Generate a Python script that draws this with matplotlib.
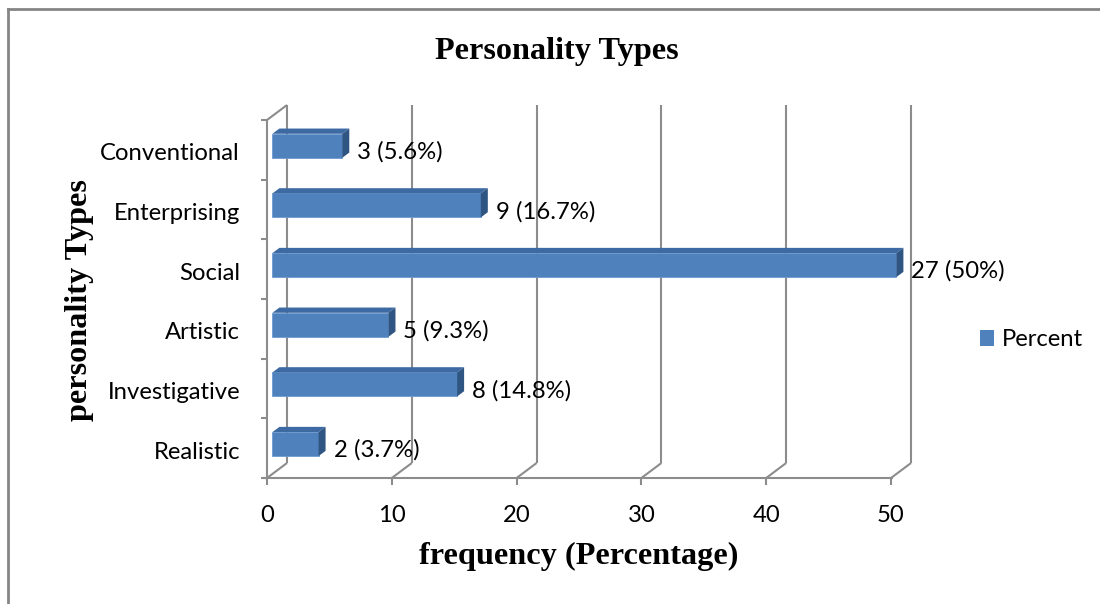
import matplotlib
matplotlib.use("Agg")
import matplotlib.pyplot as plt
from matplotlib.patches import Polygon, Patch
from matplotlib.lines import Line2D

# ---- data ----
categories = ["Realistic", "Investigative", "Artistic", "Social", "Enterprising", "Conventional"]
counts = [2, 8, 5, 27, 9, 3]
percents = [3.7, 14.8, 9.3, 50, 16.7, 5.6]
xticks = [0, 10, 20, 30, 40, 50]
series_name = "Percent"

# ---- style ----
W, H = 1100, 604
fig = plt.figure(figsize=(W / 100, H / 100), dpi=100)
fig.patch.set_facecolor("white")

SANS = ["Lato", "DejaVu Sans"]
SERIF = ["Liberation Serif", "DejaVu Serif"]
FS = 17.2
TFS = 23.2
GRID = "#8c8c8c"
FRONT = "#4f81bd"
TOP = "#3d6aa2"
SIDE = "#2f5582"

# front plane of the 3D box in pixels
L, R, B, T = 267, 891, 478, 120
ax = fig.add_axes([L / W, 1 - B / H, (R - L) / W, (B - T) / H])
ax.set_xlim(0, 50)
ax.set_ylim(0, len(categories))
ax.axis("off")

ppx = (R - L) / 50.0            # pixels per x unit
ppy = (B - T) / len(categories) # pixels per y unit
DX, DY = 20 / ppx, 15 / ppy     # full depth of the box (data units)
f0, f1 = 0.27, 0.62             # bar depth fractions
bh = 24 / ppy                   # bar front-face height

lw = 1.5
kw = dict(color=GRID, lw=lw, clip_on=False, solid_capstyle="butt", zorder=1)
ny = len(categories)
# back wall gridlines + floor diagonals
for v in xticks:
    ax.plot([v + DX, v + DX], [DY, ny + DY], **kw)
    ax.plot([v, v + DX], [0, DY], **kw)
# left wall front edge and top diagonal
ax.plot([0, 0], [0, ny], **kw)
ax.plot([0, DX], [ny, ny + DY], **kw)
# front floor line
ax.plot([-5 / ppx, 50 + 2 / ppx], [0, 0], **kw)
# ticks
for i in range(ny + 1):
    ax.plot([-6 / ppx, 0], [i, i], **kw)
for v in xticks:
    ax.plot([v, v], [0, -7 / ppy], **kw)
    ax.text(v, -38 / ppy, str(v), ha="center", va="center", fontsize=FS, family=SANS)

# bars
for i, (c, n, p) in enumerate(zip(categories, counts, percents)):
    x0 = f0 * DX
    yc = i + 0.5 + f0 * DY
    ybot, ytop = yc - bh / 2, yc + bh / 2
    ddx, ddy = (f1 - f0) * DX, (f1 - f0) * DY
    ax.barh(yc, p, height=bh, left=x0, color=FRONT, edgecolor="#6f9bd0", lw=0.6, zorder=3, clip_on=False)
    ax.add_patch(Polygon([(x0, ytop), (x0 + p, ytop), (x0 + p + ddx, ytop + ddy), (x0 + ddx, ytop + ddy)],
                         closed=True, facecolor=TOP, edgecolor="none", zorder=3, clip_on=False))
    ax.add_patch(Polygon([(x0 + p, ybot), (x0 + p, ytop), (x0 + p + ddx, ytop + ddy), (x0 + p + ddx, ybot + ddy)],
                         closed=True, facecolor=SIDE, edgecolor="none", zorder=3, clip_on=False))
    ax.text(x0 + p + ddx + 8 / ppx, i + 0.5 - 2 / ppy, f"{n} ({p:g}%)", ha="left", va="center",
            fontsize=FS, family=SANS, zorder=4)
    ax.text(-27 / ppx, i + 0.5 - 4 / ppy, c, ha="right", va="center", fontsize=FS, family=SANS)

# titles
fig.text(557 / W, 1 - 51 / H, "Personality Types", ha="center", va="center",
         fontsize=TFS, fontweight="bold", family=SERIF)
fig.text(80 / W, 1 - 300 / H, "personality Types", ha="center", va="center", rotation=90,
         fontsize=TFS, fontweight="bold", family=SERIF)
fig.text(579 / W, 1 - 556 / H, "frequency (Percentage)", ha="center", va="center",
         fontsize=TFS, fontweight="bold", family=SERIF)

# legend
fig.legend(handles=[Patch(facecolor=FRONT, edgecolor="none", label=series_name)],
           loc="center left", bbox_to_anchor=(980 / W, 1 - 340 / H), frameon=False,
           prop=dict(family=SANS, size=FS), handlelength=0.6, handleheight=0.6,
           handletextpad=0.3, borderpad=0, borderaxespad=0)

# outer border (top and left)
fig.add_artist(Line2D([8 / W, 1], [1 - 9 / H, 1 - 9 / H], color="#858585", lw=2, transform=fig.transFigure))
fig.add_artist(Line2D([8 / W, 8 / W], [0, 1 - 9 / H], color="#858585", lw=2, transform=fig.transFigure))

fig.savefig("out.png", dpi=100, facecolor="white")
